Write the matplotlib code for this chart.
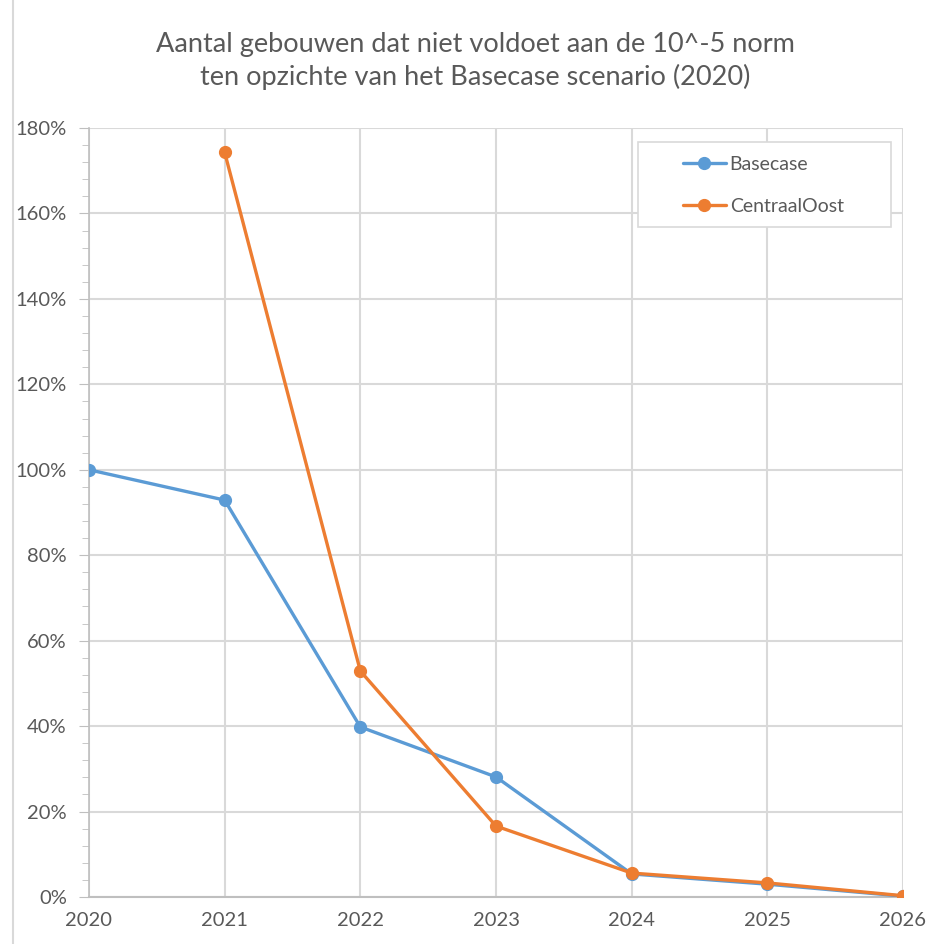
import matplotlib
matplotlib.use("Agg")
import matplotlib.pyplot as plt
from matplotlib.ticker import MultipleLocator, FuncFormatter
from matplotlib.lines import Line2D
from matplotlib.patches import Rectangle

years = [2020, 2021, 2022, 2023, 2024, 2025, 2026]
basecase = [100.0, 92.9, 39.8, 28.1, 5.4, 3.0, 0.2]
centraal_years = [2021, 2022, 2023, 2024, 2025, 2026]
centraal = [174.3, 52.9, 16.6, 5.6, 3.3, 0.3]
title = "Aantal gebouwen dat niet voldoet aan de 10^-5 norm\nten opzichte van het Basecase scenario (2020)"

plt.rcParams['font.family'] = ['Lato', 'DejaVu Sans']
fig = plt.figure(figsize=(9.32, 9.44), dpi=100)
ax = fig.add_axes([89/932, 1 - 897/944, (903 - 89)/932, (897 - 128)/944])

blue = '#5B9BD5'
orange = '#ED7D31'
grid = '#D9D9D9'
txt = '#595959'

ax.plot(years, basecase, color=blue, lw=2.4, marker='o', ms=8.5, label='Basecase', zorder=3,
        solid_capstyle='round')
ax.plot(centraal_years, centraal, color=orange, lw=2.4, marker='o', ms=8.5, label='CentraalOost', zorder=4,
        solid_capstyle='round')

ax.set_xlim(2020, 2026)
ax.set_ylim(0, 180)
ax.yaxis.set_major_locator(MultipleLocator(20))
ax.yaxis.set_minor_locator(MultipleLocator(4))
ax.xaxis.set_major_locator(MultipleLocator(1))
ax.yaxis.set_major_formatter(FuncFormatter(lambda v, p: f"{v:.0f}%"))
ax.xaxis.set_major_formatter(FuncFormatter(lambda v, p: f"{v:.0f}"))
ax.grid(True, which='major', color=grid, lw=1.5, zorder=0)
ax.set_axisbelow(True)
for s in ['top', 'right']:
    ax.spines[s].set_visible(False)
ax.spines['left'].set_color('#BFBFBF')
ax.spines['bottom'].set_color('#BFBFBF')
ax.spines['left'].set_linewidth(1.2)
ax.spines['bottom'].set_linewidth(1.5)
ax.tick_params(axis='y', which='major', length=7, color='#BFBFBF', labelsize=14.5, labelcolor=txt, pad=9)
ax.tick_params(axis='y', which='minor', length=5, color='#BFBFBF')
ax.tick_params(axis='x', which='major', length=0, labelsize=14.5, labelcolor=txt, pad=11)

# legend box (frame drawn separately to match the reference padding)
def ax_x(px):
    return (px - 89) / 814
def ax_y(py):
    return 1 - (py - 128) / 769

ax.add_patch(Rectangle((ax_x(638), ax_y(227)), ax_x(891) - ax_x(638), ax_y(142) - ax_y(227),
                       transform=ax.transAxes, facecolor='white', edgecolor=grid, lw=1.2, zorder=5))
leg = ax.legend(loc='upper left', bbox_to_anchor=(ax_x(683), ax_y(156)),
                frameon=False, fontsize=14, labelcolor=txt,
                borderpad=0, labelspacing=1.3, handlelength=2.2, handletextpad=0.2,
                borderaxespad=0)
leg.set_zorder(6)

fig.text(475/932, 1 - 61/944, title, ha='center', va='center', fontsize=19.5, color=txt,
         linespacing=1.35)

fig.add_artist(Line2D([13/932, 13/932], [0, 1], color='#D9D9D9', lw=1.5, transform=fig.transFigure))

fig.savefig('out.png', dpi=100)
